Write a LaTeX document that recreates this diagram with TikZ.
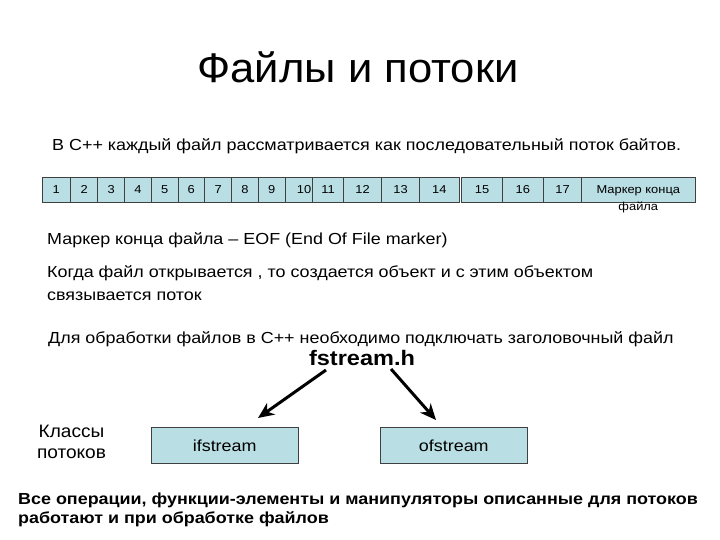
\documentclass[tikz,border=0pt]{standalone}
\usepackage{fontspec}
\setmainfont{Liberation Sans}
\newfontfamily\wide[FakeStretch=1.12]{Liberation Sans}
\newfontfamily\widetitle[FakeStretch=1.05]{Liberation Sans}
\newfontfamily\widecls[FakeStretch=1.06]{Liberation Sans}
\usetikzlibrary{arrows.meta}
\definecolor{cellfill}{RGB}{185,222,227}
\definecolor{cellline}{RGB}{64,64,64}
\tikzset{
  cell/.style={draw=cellline, line width=0.8pt, fill=cellfill, inner sep=0pt},
  celltxt/.style={font=\wide\fontsize{11.5}{13}\selectfont, inner sep=0pt},
  body/.style={font=\wide\fontsize{16}{23}\selectfont, inner sep=0pt, anchor=base west},
  arr/.style={line width=3pt, -{Stealth[length=16pt, width=14pt, inset=5pt]}},
}
\begin{document}
\begin{tikzpicture}[x=1pt,y=-1pt]
\useasboundingbox (0,0) rectangle (720,540);
% title
\node[font=\widetitle\fontsize{41.5}{44}\selectfont, inner sep=0pt, anchor=base] (title) at (358,82.7) {Файлы и потоки};
\node[body] (l1) at (52,151) {В С++ каждый файл рассматривается как последовательный поток байтов.};
% cells
\foreach \n/\a/\b/\t in {1/42/70.7/56.3, 2/70.7/97.7/84.2, 3/97.7/124.7/111.2, 4/124.7/151.3/138, 5/151.3/178/164.7, 6/178/204.7/191.3, 7/204.7/231.7/218.2, 8/231.7/258.3/245, 9/258.3/285.3/271.8, 10/285.3/316/304, 11/312.7/343.3/328, 12/343.3/381.7/362.5, 13/381.7/419.3/400.5, 14/419.3/459.3/439.3, 15/461.7/502.3/482, 16/502.3/543.3/522.8, 17/543.3/581.7/562.5} {
  \filldraw[cell] (\a,177) rectangle (\b,202);
  \node[celltxt] (c\n) at (\t,189.5) {\n};
}
\filldraw[cell] (581.7,177) rectangle (695,202);
\node[celltxt, anchor=base] (eof1) at (638.3,193.5) {Маркер конца};
\node[celltxt, anchor=base] (eof2) at (638.3,210.5) {файла};
% text
\node[body] (l2) at (47,244) {Маркер конца файла – EOF (End Of File marker)};
\node[body] (l3a) at (47,277) {Когда файл открывается , то создается объект и с этим объектом};
\node[body] (l3b) at (47,300) {связывается поток};
\node[body] (l4) at (48,343) {Для обработки файлов в С++ необходимо подключать заголовочный файл};
\node[font=\wide\fontsize{21}{24}\bfseries, inner sep=0pt, anchor=base] (fs) at (362,365) {fstream.h};
% boxes
\node[cell, minimum width=147.3pt, minimum height=36pt, font=\wide\fontsize{16}{20}\selectfont] (ifs) at (224.7,445.3) {ifstream};
\node[cell, minimum width=147.7pt, minimum height=36pt, font=\wide\fontsize{16}{20}\selectfont] (ofs) at (453.8,445.3) {ofstream};
\node[font=\widecls\fontsize{18}{21}\selectfont, inner sep=0pt, anchor=base] (cls1) at (71.5,437.3) {Классы};
\node[font=\widecls\fontsize{18}{21}\selectfont, inner sep=0pt, anchor=base] (cls2) at (71.5,458.3) {потоков};
% arrows
\coordinate (ls) at (326,370);
\coordinate (le) at (258,418);
\coordinate (rs) at (391,369);
\coordinate (re) at (436,420);
\draw[arr] (ls) -- (le);
\draw[arr] (rs) -- (re);
% bottom
\node[body, font=\wide\fontsize{16}{20}\bfseries] (bot1) at (18,504) {Все операции, функции-элементы и манипуляторы описанные для потоков};
\node[body, font=\wide\fontsize{16}{20}\bfseries] (bot2) at (18,523) {работают и при обработке файлов};
\end{tikzpicture}
\end{document}
